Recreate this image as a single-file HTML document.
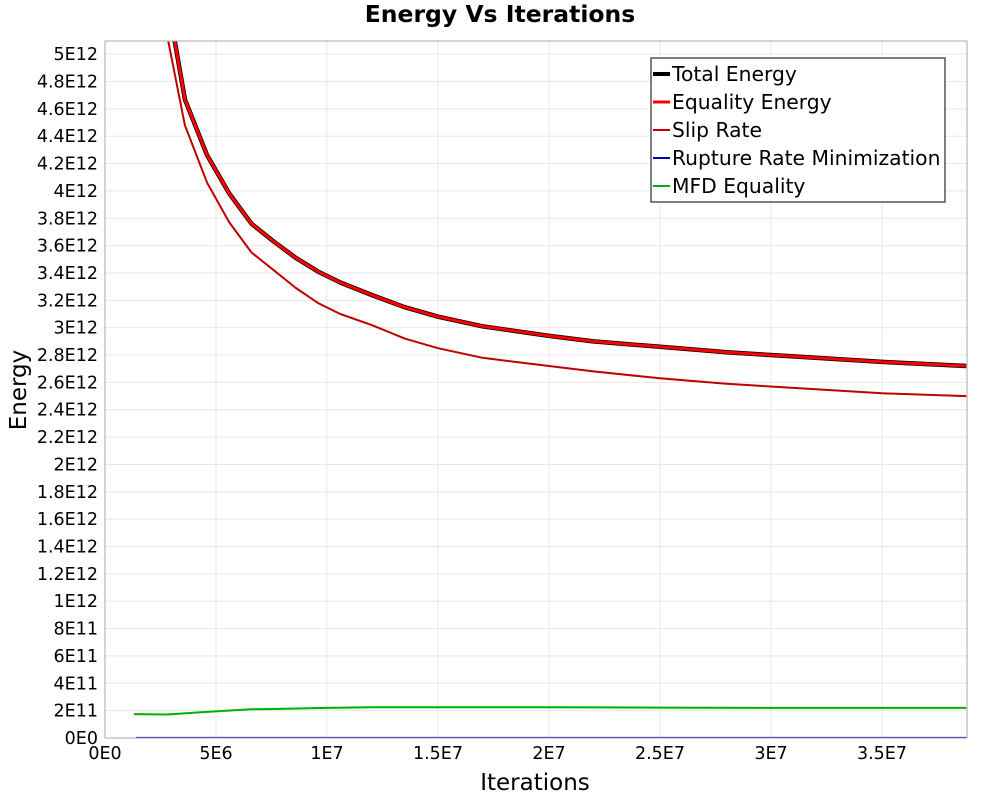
<!DOCTYPE html>
<html><head><meta charset="utf-8"><style>
body{margin:0;background:#fff;}
svg{display:block;font-family:"DejaVu Sans","Liberation Sans",sans-serif;}
</style></head><body>
<svg id="chart" width="1000" height="800">
<text x="500" y="22" text-anchor="middle" font-size="23.5" font-weight="bold">Energy Vs Iterations</text>
<g id="grid"></g>
<g id="yticks"></g>
<g id="xticks"></g>
<g id="plot" clip-path="url(#clip)"></g>
<defs><clipPath id="clip"><rect x="105" y="41" width="862" height="697"/></clipPath></defs>
<rect x="105" y="41" width="862" height="697" fill="none" stroke="#aaa"/>
<text x="535" y="790" text-anchor="middle" font-size="23">Iterations</text>
<text transform="translate(26,390) rotate(-90)" text-anchor="middle" font-size="23">Energy</text>
<g>
<rect x="651" y="58" width="294" height="144" fill="#fff" stroke="#555" stroke-width="1.5"/>
<g id="legend"></g>
</g>
</svg>
<script>
const xVals=[1.4e6,2.6e6,3.6e6,4.6e6,5.6e6,6.6e6,7.6e6,8.6e6,9.6e6,10.6e6,12e6,13.5e6,15e6,17e6,20e6,22e6,25e6,28e6,31e6,35e6,38.8e6];
const totalE=[8e12,5.6e12,4.67e12,4.26e12,3.98e12,3.76e12,3.63e12,3.51e12,3.41e12,3.33e12,3.24e12,3.15e12,3.08e12,3.01e12,2.94e12,2.9e12,2.86e12,2.82e12,2.79e12,2.75e12,2.72e12];
const equalityE=[7.99e12,5.6e12,4.67e12,4.26e12,3.98e12,3.76e12,3.63e12,3.51e12,3.41e12,3.33e12,3.24e12,3.15e12,3.08e12,3.01e12,2.94e12,2.9e12,2.86e12,2.82e12,2.79e12,2.75e12,2.72e12];
const slipRate=[7.5e12,5.3e12,4.48e12,4.06e12,3.77e12,3.55e12,3.42e12,3.29e12,3.18e12,3.1e12,3.02e12,2.92e12,2.85e12,2.78e12,2.72e12,2.68e12,2.63e12,2.59e12,2.56e12,2.52e12,2.5e12];
const ruptureRate=[1e9,1e9,1e9,1e9,1e9,1e9,1e9,1e9,1e9,1e9,1e9,1e9,1e9,1e9,1e9,1e9,1e9,1e9,1e9,1e9,1e9];
const mfdX=[1.3e6,2.8e6,4.5e6,6.6e6,7.6e6,10e6,12e6,20e6,25e6,30e6,38.8e6];
const mfdE=[1.75e11,1.72e11,1.9e11,2.1e11,2.12e11,2.2e11,2.25e11,2.25e11,2.22e11,2.2e11,2.2e11];
const yTickLabels=["0E0","2E11","4E11","6E11","8E11","1E12","1.2E12","1.4E12","1.6E12","1.8E12","2E12","2.2E12","2.4E12","2.6E12","2.8E12","3E12","3.2E12","3.4E12","3.6E12","3.8E12","4E12","4.2E12","4.4E12","4.6E12","4.8E12","5E12"];
const xTickLabels=["0E0","5E6","1E7","1.5E7","2E7","2.5E7","3E7","3.5E7"];
const NS="http://www.w3.org/2000/svg";
const X0=105,X1=967,Y0=738,Y1=41,xMax=3.883e7,yMax=5.096e12;
const sx=v=>X0+v/xMax*(X1-X0);
const sy=v=>Y0-v/yMax*(Y0-Y1);
function mk(tag,attrs,parent,txt){const e=document.createElementNS(NS,tag);for(const k in attrs)e.setAttribute(k,attrs[k]);if(txt!==undefined)e.textContent=txt;parent.appendChild(e);return e;}
const grid=document.getElementById('grid'),yt=document.getElementById('yticks'),xt=document.getElementById('xticks');
yTickLabels.forEach((l,i)=>{const y=sy(i*2e11);
 const g=mk('line',{x1:X0,x2:X1,y1:y,y2:y,stroke:'#e8e8e8'},grid);
 
 
 const t=mk('text',{x:98,y:y+6,'text-anchor':'end','font-size':17.5},yt,l);
 
 
});
xTickLabels.forEach((l,i)=>{const x=sx(i*5e6);
 const g=mk('line',{x1:x,x2:x,y1:Y1,y2:Y0,stroke:'#e8e8e8'},grid);
 
 
 const t=mk('text',{x:x,y:759,'text-anchor':'middle','font-size':17.5},xt,l);
 
 
});
const plot=document.getElementById('plot');
function line(xs,ys,color,w,name){const d=xs.map((x,i)=>(i?'L':'M')+sx(x).toFixed(1)+','+sy(ys[i]).toFixed(1)).join('');
 const p=mk('path',{d:d,fill:'none',stroke:color,'stroke-width':w,'stroke-linejoin':'round'},plot);
 
 }
line(xVals,totalE,'#000',4.5,'total-energy-line');
line(xVals,equalityE,'#f00',3,'equality-energy-line');
line(xVals,slipRate,'#c00000',2,'slip-rate-line');
line(xVals,ruptureRate,'#0000b0',2,'rupture-rate-line');
line(mfdX,mfdE,'#00b000',2,'mfd-equality-line');
const leg=document.getElementById('legend');
[["Total Energy","#000",4],["Equality Energy","#f00",3],["Slip Rate","#c00000",2],["Rupture Rate Minimization","#0000b0",2],["MFD Equality","#00b000",2]].forEach((e,i)=>{const y=74+i*28;
 const l=mk('line',{x1:653,x2:670,y1:y,y2:y,stroke:e[1],'stroke-width':e[2]},leg);
 
 
 const t=mk('text',{x:672,y:y+7,'font-size':20.3},leg,e[0]);
 
 
});
</script>
</body></html>
